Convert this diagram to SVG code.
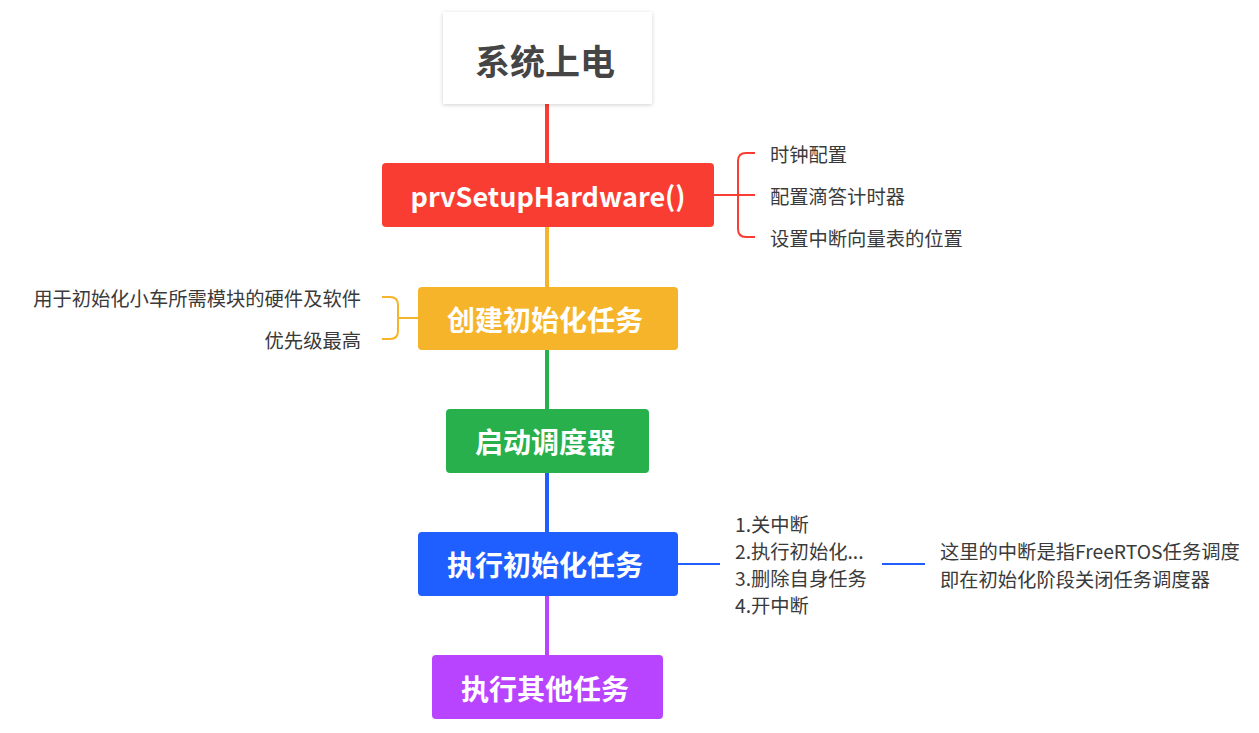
<svg xmlns="http://www.w3.org/2000/svg" width="1259" height="733" viewBox="0 0 1259 733">
  <style>
    .node-title { font-family: "Noto Sans CJK SC", "Noto Sans", sans-serif; font-weight: bold; fill: #ffffff; font-size: 28px; text-anchor: middle; dominant-baseline: central; }
    .root-title { font-family: "Noto Sans CJK SC", "Noto Sans", sans-serif; font-weight: bold; fill: #454545; font-size: 35px; text-anchor: middle; dominant-baseline: central; }
    .note { font-family: "Noto Sans CJK SC", "Noto Sans", sans-serif; fill: #3a3a3a; font-size: 19.3px; dominant-baseline: central; }
    .right { text-anchor: end; }
    .link { fill: none; stroke-width: 2; }
    .trunk { fill: none; stroke-width: 4; }
  </style>
  <defs>
    <filter id="softShadow" x="-10%" y="-10%" width="120%" height="130%">
      <feDropShadow dx="0" dy="1" stdDeviation="2" flood-color="#000" flood-opacity="0.18"/>
    </filter>
  </defs>
  <rect width="1259" height="733" fill="#ffffff"/>

  <!-- connectors -->
  <g id="connectors">
    <line class="trunk" x1="547" y1="104" x2="547" y2="164" stroke="#F93D32"/>
    <line class="trunk" x1="547" y1="226" x2="547" y2="288" stroke="#F6B42A"/>
    <line class="trunk" x1="547" y1="349" x2="547" y2="410" stroke="#27B04B"/>
    <line class="trunk" x1="547" y1="472" x2="547" y2="533" stroke="#1F5EFF"/>
    <line class="trunk" x1="547" y1="595" x2="547" y2="656" stroke="#B844FF"/>

    <!-- hardware setup bracket -->
    <path class="link" stroke="#F93D32" d="M714 195 H755 M755 153 H746 Q738 153 738 161 V229 Q738 237 746 237 H755"/>
    <!-- init task bracket -->
    <path class="link" stroke="#F6B42A" d="M418 318 H398 M382 297 H390 Q398 297 398 305 V331 Q398 339 390 339 H382"/>
    <!-- init task run steps -->
    <line class="link" stroke="#1F5EFF" x1="678" y1="564" x2="720" y2="564"/>
    <line class="link" stroke="#1F5EFF" x1="882" y1="564" x2="925" y2="564"/>
  </g>

  <g id="node-power-on">
    <rect x="443" y="12" width="209" height="92" fill="#ffffff" filter="url(#softShadow)"/>
    <text class="root-title" x="545" y="59">系统上电</text>
  </g>

  <g id="node-setup-hardware">
    <rect x="382" y="163" width="332" height="64" rx="4" fill="#F93D32"/>
    <text class="node-title" x="548" y="195" style="font-size:27px">prvSetupHardware()</text>
  </g>

  <g id="note-setup-hardware">
    <text class="note" x="770" y="154">时钟配置</text>
    <text class="note" x="770" y="196">配置滴答计时器</text>
    <text class="note" x="770" y="238">设置中断向量表的位置</text>
  </g>

  <g id="node-create-init">
    <rect x="418" y="287" width="260" height="63" rx="4" fill="#F6B42A"/>
    <text class="node-title" x="545" y="319">创建初始化任务</text>
  </g>

  <g id="note-create-init">
    <text class="note right" x="361" y="298">用于初始化小车所需模块的硬件及软件</text>
    <text class="note right" x="361" y="340">优先级最高</text>
  </g>

  <g id="node-start-scheduler">
    <rect x="446" y="409" width="203" height="64" rx="4" fill="#27B04B"/>
    <text class="node-title" x="545" y="441">启动调度器</text>
  </g>

  <g id="node-run-init">
    <rect x="418" y="532" width="260" height="64" rx="4" fill="#1F5EFF"/>
    <text class="node-title" x="545" y="564">执行初始化任务</text>
  </g>

  <g id="note-run-init-steps">
    <text class="note" x="735" y="524">1.关中断</text>
    <text class="note" x="735" y="551">2.执行初始化...</text>
    <text class="note" x="735" y="578">3.删除自身任务</text>
    <text class="note" x="735" y="605">4.开中断</text>
  </g>

  <g id="note-run-init-detail">
    <text class="note" x="940" y="551">这里的中断是指FreeRTOS任务调度</text>
    <text class="note" x="940" y="579">即在初始化阶段关闭任务调度器</text>
  </g>

  <g id="node-run-others">
    <rect x="432" y="655" width="231" height="64" rx="4" fill="#B844FF"/>
    <text class="node-title" x="545" y="688">执行其他任务</text>
  </g>
</svg>
